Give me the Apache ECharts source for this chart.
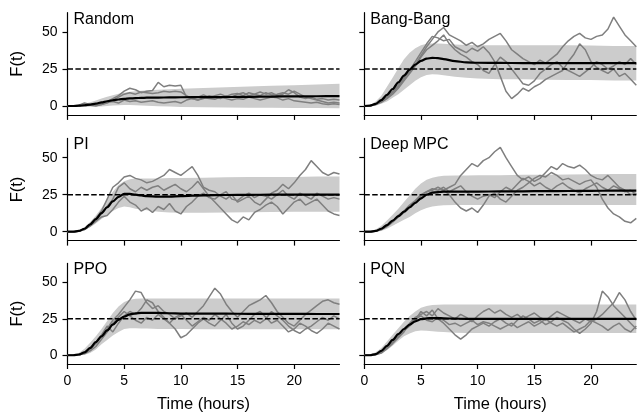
<!DOCTYPE html>
<html><head><meta charset="utf-8">
<script src="https://cdn.jsdelivr.net/npm/echarts@6/dist/echarts.min.js"></script>
<style>html,body{margin:0;padding:0;background:#fff}#c{width:639px;height:414px}</style>
</head><body><div id="c"></div>
<script>
// ---------- data ----------
const titles = ['Random', 'Bang-Bang', 'PI', 'Deep MPC', 'PPO', 'PQN'];
const xTicks = [0, 5, 10, 15, 20];
const yTicks = [0, 25, 50];
const target = 25;
const tRange = [0, 24];

// time grid for the noisy trajectories (hours)
const tTraj = [0,0.5,1,1.5,2,2.5,3,3.5,4,4.5,5,5.5,6,6.5,7,7.5,8,8.5,9,9.5,10,10.5,11,11.5,12,12.5,13,13.5,14,14.5,15,15.5,16,16.5,17,17.5,18,18.5,19,19.5,20,20.5,21,21.5,22,22.5,23,23.5,24];
// time grid for the mean and the spread band (hours)
const tMean = [0,0.5,1,1.5,2,2.5,3,3.5,4,4.5,5,5.5,6,6.5,7,8,9,10,12,14,16,18,20,22,24];

// Random
const meanRandom  = [0,0,0.2,0.5,1,1.6,2.4,3.2,3.9,4.4,4.8,5.1,5.3,5.5,5.6,5.7,5.8,5.9,6,6.1,6.2,6.4,6.5,6.6,6.7];
const upperRandom = [0,0.1,0.6,1.5,2.6,3.8,5,6.2,7.3,8.2,9,9.6,10,10.3,10.6,11,11.3,11.6,12.1,12.6,13.1,13.6,14.1,14.6,15];
const lowerRandom = [0,0,-0.1,-0.3,-0.4,-0.4,-0.3,0,0.3,0.5,0.6,0.6,0.5,0.4,0.2,-0.1,-0.4,-0.6,-0.8,-1,-1.1,-1.2,-1.3,-1.4,-1.5];
const trajRandom1 = [0,0,0.5,2,1,0.5,1.5,3,5,7,10,12,11,9,10,10.5,16,13,14,13.5,14,6,5,6,7.5,6,7,8,6.5,8,8.5,7,9,8,7,9,7.5,8,9,8,10,8,6,5,4,3,2,2.5,2];
const trajRandom2 = [0,0,0,0.2,0.5,0.5,1,2,4,6,8,9,8,9.5,9,8.5,9,10,9.5,10,9.5,7,5,4,5,7,6,5,7,6,8,9,7,8,9.5,8,9,7,8,11,9,6,5,6,4.5,5,4,4.5,4];
const trajRandom3 = [0,0,0.3,1,0.5,0,1,2.5,3,2,4,3,3.5,2.5,3,3.5,2.5,2,2.5,3,2,4,5,4,5.5,5,4.5,6,5,4,5,4.5,6,5,4,5,6,5.5,4,5,3.5,3,2.5,2,2.5,1.5,1,1.5,1];

// Bang-Bang
const meanBang  = [0,0.3,1.5,4,7.5,11.5,16,20.5,24.5,28,30.5,32,32.5,32.3,31.7,30.3,29.5,29.2,29.1,29,29,29,29,28.9,28.9];
const upperBang = [0,0.5,3,7,13,19,25.5,31.5,36,39,41,42,42.2,42.2,42,41.5,41.2,41,41,41,41,41,40.8,40.5,40.5];
const lowerBang = [0,0,0.2,1.5,3,5.5,8,11,14,17,19.5,21,21.5,21.2,20.8,19.8,19,18.5,18,18,17.8,17.5,17.5,17.3,17.3];
const trajBang1 = [0,0,1,3,6,10,14,19,23,28,34,40,45,50,53,48,46,44,41,43,40,42,45,47,49,44,38,35,32,30,28,31,29,32,35,40,44,47,49,46,45,47,48,52,60,54,48,44,40];
const trajBang2 = [0,0,1.5,3.5,6,9,13,18,24,30,36,42,47,46,44,45,40,38,36,39,37,40,36,30,20,10,5,8,12,10,13,15,18,20,22,24,30,35,42,38,30,26,24,22,25,20,22,18,14];
const trajBang3 = [0,0.3,1,2.5,5,8,12,17,22,27,33,38,41,44,48,42,38,35,33,30,28,24,22,28,33,30,25,20,15,14,17,22,25,28,30,26,24,22,20,23,26,30,28,25,27,30,28,32,28];

// PI
const meanPI  = [0,0,0.5,2,5,8.5,12.5,16.5,20.5,23.5,25.5,25.5,25,24.5,24,23.6,23.7,24,24.6,24.8,24.9,25,25,25,25];
const upperPI = [0,0.2,1,3,6.5,11,16,21.5,27,31.5,34,35.5,36,36,36,36,36.2,36.3,36.5,36.7,37,37,37,37.2,37.2];
const lowerPI = [0,0,0,1,3,5.5,8.5,11.5,14,16,17,16.5,15.5,15,14.5,13.5,13,12.8,12.8,13,13.2,13.3,13.5,13.5,13.5];
const trajPI1 = [0,0,0.5,2,5,9,14,22,30,33,37,38,36,35,33,34,36,38,42,40,38,41,44,38,30,28,27,24,22,25,20,22,24,20,18,22,26,28,32,29,33,38,42,48,44,40,38,40,39];
const trajPI2 = [0,0,0.3,1.5,4,8,12,17,22,30,33,29,27,30,28,30,31,28,30,32,29,27,30,34,29,24,20,16,12,8,6,10,8,13,15,18,20,17,12,16,20,22,18,20,22,18,14,12,11];
const trajPI3 = [0,0,0.5,1.5,4,7,10,11,15,20,24,20,18,14,16,13,17,15,19,14,12,17,20,24,26,23,22,25,27,22,21,24,26,23,25,24,22,25,28,24,22,26,24,22,26,24,22,23,22];

// Deep MPC
const meanMPC  = [0,0,0.5,2,4.5,7.5,10.5,13.5,16.5,19.5,22.5,25,26.3,26.8,27,27,27.1,27.1,27.2,27.3,27.4,27.5,27.6,27.7,27.8];
const upperMPC = [0,0.3,1.5,4,7.5,11.5,15.5,20,24.5,29,32.5,35,36.5,37.3,37.7,38,38,38.1,38.2,38.4,38.5,38.7,38.8,38.9,39];
const lowerMPC = [0,0,0,0.5,2,4,6,8,10,12.5,14.5,16,17,17.5,17.8,18,18,18,18,18,18,18,18,18,18];
const trajMPC1 = [0,0,0.5,2,4,7,10,13,16,20,22,25,27,26,28,30,32,38,42,46,44,48,50,54,57,50,44,38,35,37,34,36,40,44,42,46,44,43,45,42,38,36,35,38,34,30,28,25,26];
const trajMPC2 = [0,0,0.5,1.5,3.5,6.5,10,13,17,20,24,27,28,30,28,25,20,16,14,16,13,18,24,26,22,20,24,28,30,33,36,38,37,40,38,35,36,34,32,34,35,30,22,16,12,10,7,6,9];
const trajMPC3 = [0,0,0.3,1.5,4,7,11,14,18,21,25,27,29,28,30,27,29,31,27,24,22,24,25,23,27,30,28,32,36,34,31,33,30,28,31,33,30,28,26,29,31,33,30,28,31,29,27,28,25];

// PPO
const meanPPO  = [0,0,0.5,2,5,9,13,17,21,24.3,26.5,28,28.7,29,29,29,28.8,28.6,28.5,28.5,28.4,28.4,28.4,28.3,28.3];
const upperPPO = [0,0.3,1.5,4.5,8.5,13,18,23.5,29,33.5,36.5,38,38.7,39,39,39,39,39,39,39,39,39,39,39,39];
const lowerPPO = [0,0,0,0.3,1.5,4,7.5,10.5,13.5,16,18,18.5,18.5,18.4,18.3,18,18,18,17.9,17.9,17.8,17.8,17.8,17.8,17.8];
const trajPPO1 = [0,0,0.3,1.5,4,8,13,18,24,28,33,38,44,43,36,32,34,30,28,25,27,29,26,30,34,40,46,42,35,30,26,30,34,36,38,41,36,30,26,22,20,24,28,31,34,37,38,36,35];
const trajPPO2 = [0,0,0.5,2,5,9,14,20,16,22,27,30,28,32,38,36,30,26,22,18,12,14,18,22,25,22,20,24,28,22,18,20,24,28,30,26,22,24,20,16,18,22,20,17,15,18,22,20,18];
const trajPPO3 = [0,0,0.3,1,3,6,11,16,22,26,30,27,24,22,26,24,28,25,22,26,28,24,20,23,26,24,28,25,22,18,20,23,21,24,22,25,30,27,24,20,17,15,18,20,23,26,24,27,25];

// PQN
const meanPQN  = [0,0,0.8,3,6.5,10.5,14.5,18,21,23.3,24.7,25.3,25.5,25.5,25.3,25.1,25,25,25,25,25,25,25,25,25];
const upperPQN = [0,0.4,2,5,9.5,14,18.5,23,27,30,32.5,33.8,34.5,34.7,34.8,34.8,34.8,34.8,34.8,34.8,34.8,34.8,34.8,34.8,34.8];
const lowerPQN = [0,0,0,1,3.5,6.5,10,13,15,16.5,17,16.8,16.5,16.2,16,15.5,15.3,15.2,15.2,15.2,15.2,15.2,15.2,15.2,15.2];
const trajPQN1 = [0,0,0.5,2.5,5,9,13,17,20,24,30,27,31,25,22,18,14,11,14,18,20,22,20,23,25,22,20,24,27,25,22,24,21,23,26,24,22,18,15,18,22,30,44,40,34,30,26,22,18];
const trajPQN2 = [0,0,0.3,1.5,4.5,8,12,16,22,26,28,30,27,32,29,27,25,28,26,23,27,30,32,29,31,28,26,28,25,27,29,26,24,27,30,28,26,24,22,25,23,25,28,32,36,43,38,30,24];
const trajPQN3 = [0,0,0.5,2,5,9.5,13.5,18,21,25,27,24,23,26,24,21,22,20,22,24,21,23,22,20,18,20,22,19,21,23,20,22,25,22,20,22,19,16,18,20,24,22,20,17,20,22,18,16,20];

// ---------- assemble ----------
const means  = [meanRandom, meanBang, meanPI, meanMPC, meanPPO, meanPQN];
const uppers = [upperRandom, upperBang, upperPI, upperMPC, upperPPO, upperPQN];
const lowers = [lowerRandom, lowerBang, lowerPI, lowerMPC, lowerPPO, lowerPQN];
const trajs  = [
  [trajRandom1, trajRandom2, trajRandom3],
  [trajBang1, trajBang2, trajBang3],
  [trajPI1, trajPI2, trajPI3],
  [trajMPC1, trajMPC2, trajMPC3],
  [trajPPO1, trajPPO2, trajPPO3],
  [trajPQN1, trajPQN2, trajPQN3]
];

const FONT = '"Liberation Sans", Arial, Helvetica, sans-serif';
const colLeft = [67.5, 364.3];
const rowTop = [12.7, 138.4, 263.4];
const W = 272, H = 102.2;

const grid = [], xAxis = [], yAxis = [], series = [], title = [];
for (let i = 0; i < 6; i++) {
  const r = Math.floor(i / 2), c = i % 2;
  grid.push({left: colLeft[c], top: rowTop[r], width: W, height: H, containLabel: false});
  const bottom = r === 2, leftCol = c === 0;
  xAxis.push({
    type: 'value', gridIndex: i, min: tRange[0], max: tRange[1],
    axisLine: {show: true, onZero: false, lineStyle: {color: '#000', width: 1.2}},
    axisTick: {show: true, inside: false, length: 5, customValues: xTicks, lineStyle: {color: '#000', width: 1.2}},
    axisLabel: {show: bottom, customValues: xTicks, color: '#000', fontSize: 14, fontFamily: FONT, margin: 10},
    splitLine: {show: false},
    name: bottom ? 'Time (hours)' : '', nameLocation: 'middle', nameGap: 32,
    nameTextStyle: {color: '#000', fontSize: 16.5, fontFamily: FONT}
  });
  yAxis.push({
    type: 'value', gridIndex: i, min: -6, max: 63,
    axisLine: {show: true, lineStyle: {color: '#000', width: 1.2}},
    axisTick: {show: true, inside: false, length: 5, customValues: yTicks, lineStyle: {color: '#000', width: 1.2}},
    axisLabel: {show: leftCol, customValues: yTicks, color: '#000', fontSize: 14, fontFamily: FONT, margin: 10},
    splitLine: {show: false},
    name: leftCol ? 'F(t)' : '', nameLocation: 'middle', nameGap: 42, nameRotate: 90,
    nameTextStyle: {color: '#000', fontSize: 16.5, fontFamily: FONT}
  });
  title.push({
    text: titles[i], left: colLeft[c] + 6, top: rowTop[r] - 1.5, padding: 0,
    textStyle: {color: '#000', fontSize: 16, fontWeight: 'normal', fontFamily: FONT}
  });
  // spread band
  const up = uppers[i], lo = lowers[i];
  series.push({
    type: 'custom', xAxisIndex: i, yAxisIndex: i, z: 1, silent: true, clip: true,
    data: [[tMean[0], lo[0]]],
    renderItem: (params, api) => {
      const pts = [];
      for (let k = 0; k < tMean.length; k++) pts.push(api.coord([tMean[k], up[k]]));
      for (let k = tMean.length - 1; k >= 0; k--) pts.push(api.coord([tMean[k], lo[k]]));
      return {type: 'polygon', shape: {points: pts}, style: {fill: '#cccccc', stroke: null}};
    }
  });
  // trajectories
  trajs[i].forEach(arr => {
    series.push({
      type: 'line', xAxisIndex: i, yAxisIndex: i, z: 2, showSymbol: false, silent: true,
      data: tTraj.map((t, k) => [t, arr[k]]),
      lineStyle: {color: '#7f7f7f', width: 1.5}
    });
  });
  // target
  series.push({
    type: 'line', xAxisIndex: i, yAxisIndex: i, z: 3, showSymbol: false, silent: true,
    data: [[tRange[0], target], [tRange[1], target]],
    lineStyle: {color: '#000', width: 1.5, type: [5.5, 2.4]}
  });
  // mean
  series.push({
    type: 'line', xAxisIndex: i, yAxisIndex: i, z: 4, showSymbol: false, silent: true,
    smooth: 0.3, smoothMonotone: 'x',
    data: tMean.map((t, k) => [t, means[i][k]]),
    lineStyle: {color: '#000', width: 2.2}
  });
}

const chart = echarts.init(document.getElementById('c'), null, {renderer: 'canvas'});
chart.setOption({animation: false, backgroundColor: '#fff', title, grid, xAxis, yAxis, series});
</script>
</body></html>
